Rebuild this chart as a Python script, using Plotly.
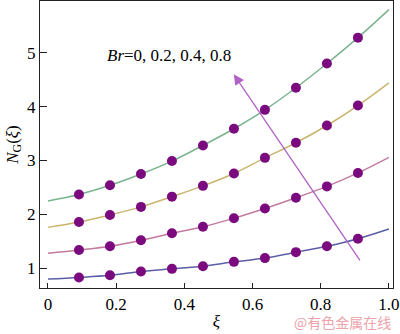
import plotly.graph_objects as go

# Sample positions along xi (markers at k/11)
xi_pts = [k / 11 for k in range(1, 11)]
xi_line = [0.0] + xi_pts + [1.0]

# N_G(xi) for Br = 0, 0.2, 0.4, 0.8
ng_br0 = [0.80, 0.83, 0.87, 0.94, 0.99, 1.04, 1.12, 1.19, 1.30, 1.41, 1.55, 1.73]
ng_br02 = [1.28, 1.34, 1.41, 1.52, 1.65, 1.77, 1.93, 2.11, 2.31, 2.52, 2.77, 3.06]
ng_br04 = [1.76, 1.86, 1.99, 2.14, 2.33, 2.53, 2.76, 3.05, 3.33, 3.65, 4.02, 4.44]
ng_br08 = [2.25, 2.37, 2.54, 2.75, 2.99, 3.28, 3.59, 3.94, 4.35, 4.80, 5.28, 5.80]

series = [
    (ng_br0, "#5b5ea6"),
    (ng_br02, "#c27b9f"),
    (ng_br04, "#c9b56e"),
    (ng_br08, "#79b48e"),
]

x_ticks = [0, 0.2, 0.4, 0.6, 0.8, 1.0]
x_tick_text = ["0", "0.2", "0.4", "0.6", "0.8", "1.0"]
y_ticks = [1, 2, 3, 4, 5]

fig = go.Figure()
for vals, col in series:
    fig.add_trace(go.Scatter(x=xi_line, y=vals, mode="lines",
                             line=dict(color=col, width=1.5, shape="spline"),
                             showlegend=False, hoverinfo="skip"))
for vals, col in series:
    fig.add_trace(go.Scatter(x=xi_pts, y=vals[1:-1], mode="markers",
                             marker=dict(color="#7a0a7e", size=10),
                             showlegend=False))

serif = "Times New Roman, Liberation Serif, DejaVu Serif, serif"

# Arrow indicating increasing Br
fig.add_annotation(x=0.545, y=4.60, ax=0.918, ay=1.12, xref="x", yref="y",
                   axref="x", ayref="y", text="", showarrow=True,
                   arrowhead=2, arrowsize=1.6, arrowwidth=1.3,
                   arrowcolor="#b262c6")
fig.add_annotation(x=0.167, y=4.95, xref="x", yref="y", xanchor="left",
                   yanchor="middle", showarrow=False,
                   text="<i>Br</i>=0, 0.2, 0.4, 0.8",
                   font=dict(family=serif, size=17, color="black"))
fig.add_annotation(x=1.0, y=-0.118, xref="paper", yref="paper",
                   xanchor="right", yanchor="middle", showarrow=False,
                   text="@有色金属在线",
                   font=dict(family="Noto Sans CJK SC", size=14,
                             color="#eda3ab"))

fig.update_layout(
    width=400, height=334,
    margin=dict(l=40, r=7, t=1, b=46),
    plot_bgcolor="white", paper_bgcolor="white",
    font=dict(family=serif, size=17, color="black"),
    xaxis=dict(range=[-0.0234, 1.012], tickmode="array", tickvals=x_ticks,
               ticktext=x_tick_text,
               ticks="inside", ticklen=5, tickwidth=1, tickcolor="#222",
               showline=True, linecolor="#222", linewidth=1.2, mirror=True,
               showgrid=False, zeroline=False,
               title=dict(text="<i>ξ</i>", standoff=2,
                          font=dict(family=serif, size=17))),
    yaxis=dict(range=[0.635, 5.96], tickvals=y_ticks,
               ticks="inside", ticklen=7, tickwidth=1, tickcolor="#222",
               showline=True, linecolor="#222", linewidth=1.2, mirror=True,
               showgrid=False, zeroline=False,
               title=dict(text="<i>N</i><sub>G</sub>(<i>ξ</i>)", standoff=4,
                          font=dict(family=serif, size=17))),
)

fig.write_html("out.html")
